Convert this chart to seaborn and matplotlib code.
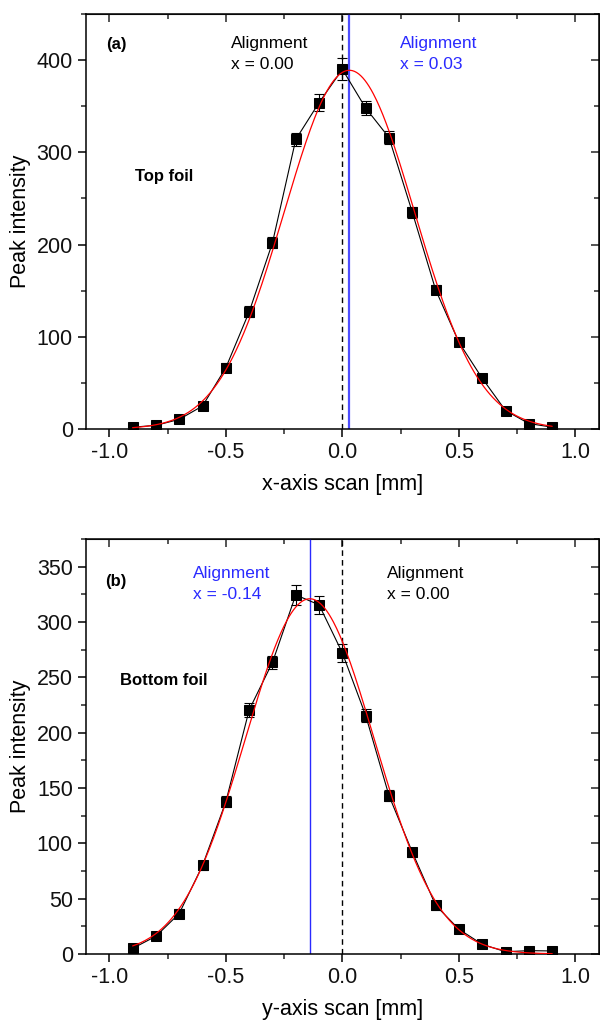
import numpy as np
import matplotlib
matplotlib.use("Agg")
import matplotlib.pyplot as plt
import seaborn as sns
from matplotlib.ticker import MultipleLocator

# scan positions [mm]
scan_pos = [-0.9, -0.8, -0.7, -0.6, -0.5, -0.4, -0.3, -0.2, -0.1, 0.0,
            0.1, 0.2, 0.3, 0.4, 0.5, 0.6, 0.7, 0.8, 0.9]

# top foil (x-axis scan)
top_int = [2, 4, 10.5, 25, 66.5, 127, 202, 314, 354, 390,
           348, 316, 235, 151, 94, 55, 20, 6, 2]
top_err = [1, 2, 3, 4, 5, 6, 6, 7, 9, 12, 8, 7, 6, 5, 4, 3, 2, 2, 1]
top_fit_center = 0.03
top_fit_amp = 389
top_fit_sigma = 0.279

# bottom foil (y-axis scan)
bot_int = [5, 16, 36.5, 80, 137.5, 220.5, 263.5, 324.5, 315.5, 272,
           215.5, 143, 92, 44, 22.3, 8.7, 2, 3, 2.7]
bot_err = [2, 3, 4, 4, 5, 6, 6, 9, 8, 8, 6, 5, 4, 4, 3, 2, 1, 1, 1]
bot_fit_center = -0.14
bot_fit_amp = 321
bot_fit_sigma = 0.276

sns.set_style("ticks")
plt.rcParams['font.family'] = ['Liberation Sans', 'DejaVu Sans']
plt.rcParams['text.color'] = 'black'
plt.rcParams['axes.labelcolor'] = 'black'

fig = plt.figure(figsize=(6, 10.23), dpi=100)
ax1 = fig.add_axes([0.1433, 0.5806, 0.8547, 0.4057])
ax2 = fig.add_axes([0.1433, 0.0675, 0.8547, 0.4056])


def gauss(x, c, a, s):
    return a * np.exp(-(x - c) ** 2 / (2 * s ** 2))


def draw_panel(ax, vals, errs, c, a, s, ymax, ymaj, ymin, xlabel):
    x_fit = np.linspace(scan_pos[0], scan_pos[-1], 400)
    ax.errorbar(scan_pos, vals, yerr=errs, fmt='none', ecolor='black',
                elinewidth=0.8, capsize=3.5, capthick=0.8, zorder=3)
    sns.lineplot(x=scan_pos, y=vals, ax=ax, color='black', lw=0.8,
                 marker='s', markersize=7.5, markeredgecolor='black',
                 markerfacecolor='black', zorder=4)
    sns.lineplot(x=x_fit, y=gauss(x_fit, c, a, s), ax=ax, color='red',
                 lw=0.9, zorder=5)
    ax.set_xlim(-1.1, 1.1)
    ax.set_ylim(0, ymax)
    ax.xaxis.set_major_locator(MultipleLocator(0.5))
    ax.xaxis.set_minor_locator(MultipleLocator(0.25))
    ax.yaxis.set_major_locator(MultipleLocator(ymaj))
    ax.yaxis.set_minor_locator(MultipleLocator(ymin))
    ax.tick_params(which='major', direction='out', length=6, width=1.1,
                   labelsize=15.5, color='black', labelcolor='#111111')
    ax.tick_params(which='minor', direction='out', length=3.5, width=1.1)
    for sp in ax.spines.values():
        sp.set_linewidth(1.1)
        sp.set_color('black')
        sp.set_visible(True)
    # inward ticks on top and right
    top = ax.secondary_xaxis('top')
    top.xaxis.set_major_locator(MultipleLocator(0.5))
    top.xaxis.set_minor_locator(MultipleLocator(0.25))
    top.tick_params(which='major', direction='in', length=6, width=1.1,
                    labeltop=False)
    top.tick_params(which='minor', direction='in', length=3.5, width=1.1)
    right = ax.secondary_yaxis('right')
    right.yaxis.set_major_locator(MultipleLocator(ymaj))
    right.yaxis.set_minor_locator(MultipleLocator(ymin))
    right.tick_params(which='major', direction='in', length=6, width=1.1,
                      labelright=False)
    right.tick_params(which='minor', direction='in', length=3.5, width=1.1)
    ax.set_xlabel(xlabel, fontsize=15.5, labelpad=8)
    ax.set_ylabel("Peak intensity", fontsize=15.5, labelpad=4)
    ax.xaxis.set_major_formatter(matplotlib.ticker.FormatStrFormatter('%.1f'))


draw_panel(ax1, top_int, top_err, top_fit_center, top_fit_amp,
           top_fit_sigma, 450, 100, 50, "x-axis scan [mm]")
ax1.axvline(0.0, color='black', ls=(0, (4, 3)), lw=1.0, zorder=2)
ax1.axvline(top_fit_center, color='#4d4dff', lw=1.6, zorder=2)
ax1.text(-1.015, 417, "(a)", fontsize=12, fontweight='bold', va='center')
ax1.text(-0.476, 418, "Alignment", fontsize=12.5, va='center')
ax1.text(-0.476, 395, "x = 0.00", fontsize=12.5, va='center')
ax1.text(0.246, 418, "Alignment", fontsize=12.5, va='center', color='#2a2aff')
ax1.text(0.246, 395, "x = 0.03", fontsize=12.5, va='center', color='#2a2aff')
ax1.text(-0.89, 274, "Top foil", fontsize=12, fontweight='bold',
         va='center')

draw_panel(ax2, bot_int, bot_err, bot_fit_center, bot_fit_amp,
           bot_fit_sigma, 375, 50, 25, "y-axis scan [mm]")
ax2.axvline(0.0, color='black', ls=(0, (4, 3)), lw=1.0, zorder=2)
ax2.axvline(bot_fit_center, color='#2a2aff', lw=1.0, zorder=2)
ax2.text(-1.02, 337, "(b)", fontsize=12, fontweight='bold', va='center')
ax2.text(-0.64, 344, "Alignment", fontsize=12.5, va='center', color='#2a2aff')
ax2.text(-0.64, 325, "x = -0.14", fontsize=12.5, va='center', color='#2a2aff')
ax2.text(0.19, 344, "Alignment", fontsize=12.5, va='center')
ax2.text(0.19, 325, "x = 0.00", fontsize=12.5, va='center')
ax2.text(-0.952, 247, "Bottom foil", fontsize=12, fontweight='bold',
         va='center')

fig.savefig("out.png", dpi=100)
